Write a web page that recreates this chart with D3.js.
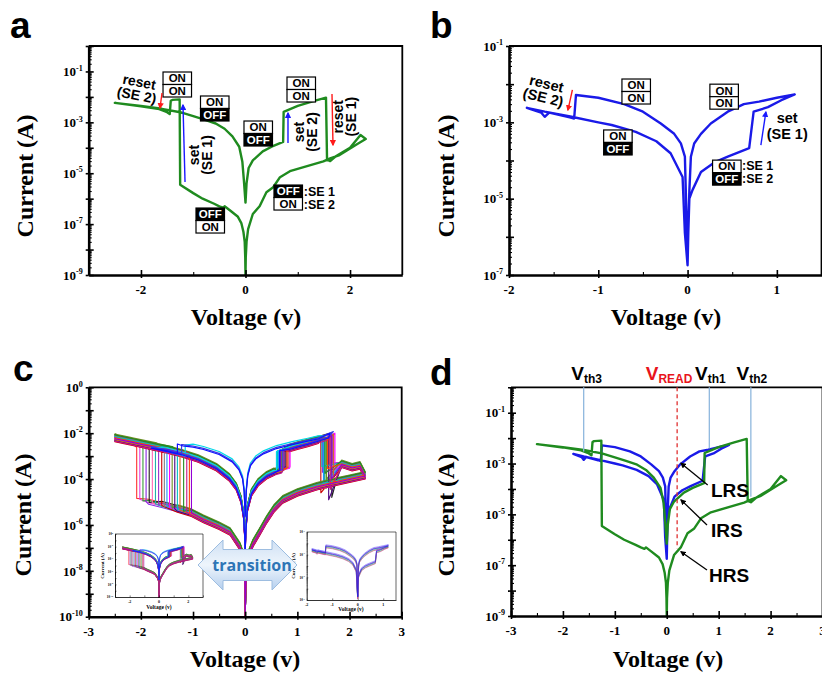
<!DOCTYPE html>
<html><head><meta charset="utf-8">
<script src="https://cdn.jsdelivr.net/npm/d3@7/dist/d3.min.js"></script>
<style>html,body{margin:0;padding:0;background:#fff;}svg{display:block;}</style>
</head><body>
<svg id="fig" width="822" height="673" viewBox="0 0 822 673"></svg>
<script>
// ================= DATA =================
// Panel a / d : green I-V sweep (voltage V, current A)
const greenV = [0,-0.005,-0.015,-0.04,-0.08,-0.15,-0.3,-0.4,-0.43,-0.5,-0.6,-0.82,-1.0,-1.25,-1.26,-1.4,-1.43,-1.45,-1.5,-1.65,-2.0,-2.5,-2.0,-1.6,-1.25,-1.0,-0.8,-0.57,-0.4,-0.25,-0.12,-0.06,-0.03,0,0.02,0.06,0.14,0.33,0.5,0.72,0.73,1.0,1.3,1.54,1.56,1.62,1.72,2.0,2.2,2.3,2.14,1.8,1.62,1.49,0.85,0.66,0.53,0.4,0.27,0.14,0.05,0.02,0.005,0];
const greenI = [1e-9,5e-9,2e-8,5e-8,1.1e-7,2e-7,3.5e-7,5e-7,4.4e-7,5e-7,6.3e-7,1e-6,1.65e-6,3.5e-6,8e-3,7.6e-3,7e-3,2.1e-3,2.5e-3,3.3e-3,4.3e-3,5.8e-3,4.4e-3,3.4e-3,2.5e-3,1.75e-3,1.3e-3,9e-4,5.6e-4,2.8e-4,1.1e-4,2.8e-5,5e-6,7e-7,4e-6,1.6e-5,3.2e-5,7.2e-5,1.1e-4,1.7e-4,2.6e-3,4.4e-3,6.8e-3,9.3e-3,3.4e-5,3e-5,4.5e-5,1e-4,3.2e-4,2.2e-4,1.4e-4,5.2e-5,3.8e-5,2.9e-5,1.2e-5,7e-6,2.8e-6,1.8e-6,5e-7,2.5e-7,6.3e-8,2e-8,5e-9,1e-9];
// Panel b / d : blue I-V sweep
const blueV = [0,0.008,0.02,0.056,0.15,0.3,0.45,0.69,0.74,0.9,1.05,1.2,1.0,0.8,0.63,0.45,0.26,0.15,0.074,0.037,0.02,0.008,0,-0.008,-0.02,-0.03,-0.075,-0.15,-0.3,-0.5,-0.71,-1.0,-1.25,-1.27,-1.32,-1.55,-1.6,-1.64,-1.8,-1.6,-1.3,-1.0,-0.85,-0.58,-0.35,-0.19,-0.056,-0.03,0];
const blueI = [1.8e-7,1.26e-6,1e-5,1.7e-5,5e-5,8.9e-5,1.26e-4,2.1e-4,1.9e-3,2.5e-3,3.8e-3,5.4e-3,4.4e-3,3.5e-3,3e-3,1.9e-3,9.3e-4,5e-4,2.8e-4,1.26e-4,1.6e-5,1.6e-6,1.8e-7,1.6e-6,1.6e-5,1.26e-4,2.8e-4,5e-4,9.3e-4,1.9e-3,3e-3,4.4e-3,5.2e-3,1.26e-3,1.35e-3,1.8e-3,1.4e-3,1.8e-3,2.4e-3,1.9e-3,1.4e-3,1e-3,8.5e-4,5.6e-4,3.2e-4,1.55e-4,3.7e-5,1.26e-6,1.8e-7];

// Panel c : repeated cycles (current given as log10 exponent)
const cColors   = ["#ff3030","#e040e0","#3a9a3a","#8a2be2","#202020","#ff69b4","#20b2aa","#9932cc","#c80000","#808080","#1e90ff","#ff00ff","#6b8e23","#4b0082","#00c0c0","#d2691e","#228b22","#c71585","#ff4500","#9400d3"];
const cNegSetV  = [-2.08,-2.02,-1.96,-1.9,-1.84,-1.78,-1.72,-1.66,-1.6,-1.55,-1.5,-1.45,-1.4,-1.35,-1.3,-1.25,-1.18,-1.12,-1.07,-1.03];
const cNegLowE  = [-4.84,-4.88,-4.95,-4.98,-5.02,-5.05,-5.08,-5.12,-5.15,-5.18,-5.2,-5.24,-5.27,-5.3,-5.33,-5.36,-5.4,-5.43,-5.46,-5.48];
const cNegTopE  = [-2.62,-2.6,-2.68,-2.65,-2.72,-2.7,-2.78,-2.75,-2.82,-2.8,-2.86,-2.84,-2.9,-2.92,-2.95,-2.98,-3.0,-3.03,-3.06,-3.1];
const cPosSetV  = [0.62,0.8,0.7,0.66,0.78,0.6,0.74,0.84,0.68,0.72,0.64,0.86,0.7,0.76,0.62,0.82,0.66,0.74,0.8,0.68];
const cPosLowE  = [-3.62,-3.52,-3.58,-3.62,-3.5,-3.66,-3.55,-3.48,-3.6,-3.56,-3.62,-3.46,-3.58,-3.52,-3.64,-3.5,-3.62,-3.54,-3.52,-3.6];
const cPosTopE  = [-2.78,-2.7,-2.74,-2.76,-2.72,-2.8,-2.73,-2.68,-2.75,-2.74,-2.77,-2.66,-2.74,-2.72,-2.78,-2.69,-2.76,-2.73,-2.7,-2.75];
const cResetV   = [1.62,1.7,1.55,1.48,1.66,1.58,1.52,1.68,1.45,1.64,1.5,1.72,1.56,1.6,1.47,1.69,1.53,1.63,1.58,1.66];
const cResetTopE= [-2.15,-2.02,-2.2,-2.25,-2.1,-2.18,-2.22,-2.05,-2.28,-2.12,-2.24,-2.0,-2.19,-2.16,-2.26,-2.04,-2.21,-2.13,-2.17,-2.1];
const cResetLowE= [-3.4,-3.9,-4.4,-3.7,-4.8,-3.5,-4.1,-3.3,-4.6,-3.8,-4.3,-3.6,-4.0,-4.9,-3.45,-4.2,-3.75,-4.45,-3.55,-4.0];
const cShiftE   = [0.1,-0.05,0.05,-0.12,0.15,0,-0.08,0.08,-0.15,0.12,0.03,-0.03,0.18,-0.1,0.06,-0.06,0.14,-0.13,0.02,-0.02];
// shared branch shapes of panel c
const cLowLeftV = [0,-0.008,-0.03,-0.1,-0.29,-0.5,-0.8,-1.03,-1.3,-1.6,-1.85,-2.08,-2.2];
const cLowLeftE = [-10,-8.2,-7.4,-6.95,-6.3,-6.05,-5.75,-5.48,-5.3,-5.12,-4.98,-4.84,-4.78];
const cOuterV = [-1.1,-1.4,-1.7,-2.0,-2.3,-2.5];
const cOuterE = [-2.85,-2.72,-2.6,-2.46,-2.32,-2.22];
const cRetV = [-2.5,-2.2,-1.9,-1.5,-1.2,-0.9,-0.55,-0.3,-0.17,-0.08,-0.03,-0.01,0];
const cRetE = [-2.22,-2.36,-2.52,-2.72,-2.9,-3.12,-3.5,-3.95,-4.35,-4.9,-5.6,-6.4,-7.2];
const cFwdV = [0,0.01,0.04,0.12,0.25,0.41,0.55,0.7,0.85];
const cFwdE = [-7.2,-6.3,-5.3,-4.6,-4.15,-3.85,-3.7,-3.6,-3.5];
const cTopV = [0.85,1.0,1.2,1.4,1.6,1.75];
const cTopE = [-2.66,-2.56,-2.44,-2.3,-2.16,-2.05];
const cOffV = [1.85,2.05,2.2];
const cOffE = [-3.35,-3.5,-3.42];
const cLowRightV = [2.3,2.0,1.7,1.37,1.0,0.72,0.55,0.41,0.28,0.15,0.06,0.02,0];
const cLowRightE = [-3.85,-4.0,-4.15,-4.33,-4.6,-4.9,-5.3,-5.78,-6.3,-6.8,-7.3,-8.0,-10];
// panel c : cycles that already behave like panel b (blue / cyan)
const cBColors = ["#00d8e8","#3a3ae0","#1010ff"];
const cBSetV = [0.6,0.72,0.66];
const cBSetLowE = [-3.65,-3.58,-3.6];
const cBSetTopE = [-2.8,-2.72,-2.76];
const cBMaxV = [1.55,1.69,1.62];
const cBMaxE = [-2.1,-1.93,-2.0];
const cBDropV = [-1.15,-1.22,-1.3];
const cBDropTopE = [-2.52,-2.5,-2.47];
const cBDropLowE = [-3.0,-2.95,-2.9];
const cBEndE = [-2.62,-2.6,-2.65];
const cBShiftE = [0.08,0,-0.05];
const cUpRV = [1.4,1.2,0.9,0.6,0.35,0.2,0.1,0.05,0.02,0];
const cUpRE = [-2.2,-2.3,-2.45,-2.62,-2.85,-3.08,-3.38,-3.8,-4.5,-5.6];
const cUpLV = [-0.02,-0.05,-0.12,-0.25,-0.5,-0.8,-1.0,-1.2,-1.3];
const cUpLE = [-4.5,-3.95,-3.55,-3.2,-2.88,-2.66,-2.56,-2.5,-2.47];
// right inset of panel c: repeated panel-b type sweeps
const insetRShift = [0,0.08,-0.08,0.15,-0.12,0.04];
const insetRColors = ["#20a0a0","#a020c0","#30a030","#6060ff","#e040a0","#2020e0"];

// tick definitions
const aXMajor=[-2,0,2], aXMinor=[-1,1], aXLabels=[-2,0,2], aYLabels=[-1,-3,-5,-7,-9];
const bXMajor=[-2,-1,0,1], bXMinor=[-1.5,-0.5,0.5], bXLabels=[-2,-1,0,1], bYLabels=[-1,-3,-5,-7];
const cXMajor=[-3,-2,-1,0,1,2,3], cXMinor=[-2.5,-1.5,-0.5,0.5,1.5,2.5], cXLabels=[-3,-2,-1,0,1,2,3], cYLabels=[0,-2,-4,-6,-8,-10];
const dXMajor=[-3,-2,-1,0,1,2,3], dXMinor=[-2.5,-1.5,-0.5,0.5,1.5,2.5], dXLabels=[-3,-2,-1,0,1,2,3], dYLabels=[-1,-3,-5,-7,-9];

// ================= DRAWING =================
const SERIF="'Liberation Serif','Times New Roman',Times,serif";
const SANS="'Liberation Sans',Arial,Helvetica,sans-serif";
const GREEN="#1f8b1f", BLUE="#1a1ae8", RED="#ff1a1a";
const svg=d3.select("#fig");
svg.append("rect").attr("width",822).attr("height",673).attr("fill","#fff");
const defs=svg.append("defs");
function mk(id,c){defs.append("marker").attr("id",id).attr("viewBox","0 0 10 10").attr("refX",8).attr("refY",5)
  .attr("markerWidth",4.5).attr("markerHeight",4.5).attr("orient","auto").append("path").attr("d","M0,0L10,5L0,10Z").attr("fill",c);}
mk("ar",RED); mk("ab","#1a1aff"); mk("ak","#000");
const grad=defs.append("linearGradient").attr("id","tg").attr("x1",0).attr("y1",0).attr("x2",0).attr("y2",1);
grad.append("stop").attr("offset","0%").attr("stop-color","#cfe0f4");
grad.append("stop").attr("offset","50%").attr("stop-color","#eef5fc");
grad.append("stop").attr("offset","100%").attr("stop-color","#b5cfee");

const MAIN={frameW:1.8,axisW:2.6,tMaj:5,tOut:3,tMin:3,tickW:1.6,minorW:1.1,xLabFs:13,xLabDy:19,yLabFs:13,yLabDx:6};
const INSET={frameW:0.6,axisW:0.8,tMaj:1.6,tOut:0,tMin:0.8,tickW:0.5,minorW:0.4,xLabFs:4,xLabDy:5.5,yLabFs:3.4,yLabDx:2};

function makePanel(o){
  const g=svg.append("g");
  const x=d3.scaleLinear().domain(o.xDom).range([o.L,o.R]);
  const y=d3.scaleLog().domain(o.yDom).range([o.B,o.T]);
  if(o.bg) g.append("rect").attr("x",o.L).attr("y",o.T).attr("width",o.R-o.L).attr("height",o.B-o.T).attr("fill","#fff");
  const curves=g.append("g");
  g.append("path").attr("d",`M${o.L},${o.T}H${o.R}V${o.B}`).attr("fill","none").attr("stroke","#000").attr("stroke-width",o.frameW);
  const xa=g.append("g").attr("transform",`translate(0,${o.B})`)
    .call(d3.axisBottom(x).tickValues(o.xMajor).tickSize(-o.tMaj).tickSizeOuter(0).tickFormat(""));
  xa.select(".domain").attr("stroke-width",o.axisW);
  xa.selectAll(".tick line").attr("stroke-width",o.tickW);
  if(o.tOut){const xo=g.append("g").attr("transform",`translate(0,${o.B})`)
    .call(d3.axisBottom(x).tickValues(o.xMajor).tickSize(o.tOut).tickSizeOuter(0).tickFormat(""));
    xo.select(".domain").remove(); xo.selectAll(".tick line").attr("stroke-width",o.tickW);}
  if(o.xMinor){const xm=g.append("g").attr("transform",`translate(0,${o.B})`)
    .call(d3.axisBottom(x).tickValues(o.xMinor).tickSize(-o.tMin).tickSizeOuter(0).tickFormat(""));
    xm.select(".domain").remove(); xm.selectAll(".tick line").attr("stroke-width",o.minorW);}
  const e0=Math.round(Math.log10(o.yDom[0])), e1=Math.round(Math.log10(o.yDom[1]));
  const dec=[], minor=[];
  for(let e=e0;e<=e1;e++){dec.push(Math.pow(10,e)); if(e<e1) for(let k=2;k<10;k++) minor.push(k*Math.pow(10,e));}
  const ya=g.append("g").attr("transform",`translate(${o.L},0)`)
    .call(d3.axisLeft(y).tickValues(dec).tickSize(-o.tMaj).tickSizeOuter(0).tickFormat(""));
  ya.select(".domain").attr("stroke-width",o.axisW);
  ya.selectAll(".tick line").attr("stroke-width",o.tickW);
  if(o.tOut){const yo=g.append("g").attr("transform",`translate(${o.L},0)`)
    .call(d3.axisLeft(y).tickValues(dec).tickSize(o.tOut).tickSizeOuter(0).tickFormat(""));
    yo.select(".domain").remove(); yo.selectAll(".tick line").attr("stroke-width",o.tickW);}
  const ym=g.append("g").attr("transform",`translate(${o.L},0)`)
    .call(d3.axisLeft(y).tickValues(minor).tickSize(-o.tMin).tickSizeOuter(0).tickFormat(""));
  ym.select(".domain").remove(); ym.selectAll(".tick line").attr("stroke-width",o.minorW);
  o.xLabels.forEach(v=>g.append("text").attr("x",x(v)).attr("y",o.B+o.xLabDy).attr("text-anchor","middle")
    .attr("font-family",SERIF).attr("font-weight","bold").attr("font-size",o.xLabFs).text(v));
  o.yLabels.forEach(ex=>{const t=g.append("text").attr("x",o.L-o.yLabDx).attr("y",y(Math.pow(10,ex))+o.yLabFs*0.36)
    .attr("text-anchor","end").attr("font-family",SERIF).attr("font-weight","bold").attr("font-size",o.yLabFs);
    t.append("tspan").text("10");
    t.append("tspan").attr("font-size",o.yLabFs*0.62).attr("dy",-o.yLabFs*0.42).text(ex);});
  return {g,curves,x,y};
}
function drawLine(p,pts,color,w){
  p.curves.append("path").attr("d",d3.line().x(d=>p.x(d[0])).y(d=>p.y(d[1]))(pts))
    .attr("fill","none").attr("stroke",color).attr("stroke-width",w).attr("stroke-linejoin","round").attr("stroke-linecap","round");
}
const E=e=>Math.pow(10,e);
function title(xc,yc,str,rot){
  svg.append("text").attr("transform",`translate(${xc},${yc})${rot?" rotate(-90)":""}`).attr("text-anchor","middle")
    .attr("font-family",SERIF).attr("font-weight","bold").attr("font-size",24).text(str);
}
function letter(x,y,s){svg.append("text").attr("x",x).attr("y",y).attr("font-family",SANS).attr("font-weight","bold").attr("font-size",37).text(s);}
function stateBox(p,v,e,top,bot){
  const x0=p.x(v), y0=p.y(E(e)), w=28.5, h=12.5;
  [[top,0],[bot,1]].forEach(([s,k])=>{
    const blk=s==="OFF";
    p.g.append("rect").attr("x",x0).attr("y",y0+k*h).attr("width",w).attr("height",h).attr("fill",blk?"#000":"#fff").attr("stroke","#000").attr("stroke-width",1.2);
    p.g.append("text").attr("x",x0+w/2).attr("y",y0+k*h+h/2+4.1).attr("text-anchor","middle").attr("font-family",SANS)
      .attr("font-weight","bold").attr("font-size",11.5).attr("fill",blk?"#fff":"#000").text(s);
  });
}
function multiText(p,v,e,lines,angle,fs,lh){
  const g=p.g.append("g").attr("transform",`translate(${p.x(v)},${p.y(E(e))}) rotate(${angle})`);
  lines.forEach((s,k)=>g.append("text").attr("x",0).attr("y",(k-(lines.length-1)/2)*lh+fs*0.36).attr("text-anchor","middle")
    .attr("font-family",SANS).attr("font-weight","bold").attr("font-size",fs).text(s));
}
function plainText(p,v,e,s,fs){
  p.g.append("text").attr("x",p.x(v)).attr("y",p.y(E(e))).attr("font-family",SANS).attr("font-weight","bold").attr("font-size",fs).text(s);
}
function arrow(p,v1,e1,v2,e2,color,mid,w){
  p.g.append("line").attr("x1",p.x(v1)).attr("y1",p.y(E(e1))).attr("x2",p.x(v2)).attr("y2",p.y(E(e2)))
    .attr("stroke",color).attr("stroke-width",w||1.4).attr("marker-end",`url(#${mid})`);
}

// ---------- panel a ----------
const pa=makePanel(Object.assign({L:88.7,R:402.3,T:46,B:275,xDom:[-3,3],yDom:[1e-9,1],xMajor:aXMajor,xMinor:aXMinor,xLabels:aXLabels,yLabels:aYLabels},MAIN));
drawLine(pa,d3.zip(greenV,greenI),GREEN,2.4);
stateBox(pa,-1.578,-1.022,"ON","ON");
stateBox(pa,-0.861,-1.965,"ON","OFF");
stateBox(pa,-0.029,-2.948,"ON","OFF");
stateBox(pa,0.794,-1.219,"ON","ON");
stateBox(pa,0.545,-5.464,"OFF","ON");
stateBox(pa,-0.947,-6.368,"OFF","ON");
plainText(pa,1.115,-5.88,":SE 1",12.5);
plainText(pa,1.115,-6.40,":SE 2",12.5);
multiText(pa,-2.057,-1.665,["reset","(SE 2)"],11,14,13.5);
arrow(pa,-1.597,-1.847,-1.636,-2.437,RED,"ar");
arrow(pa,-1.157,-5.346,-1.196,-2.319,"#1a1aff","ab");
multiText(pa,-0.87,-4.285,["set","(SE 1)"],-90,14,13);
arrow(pa,0.813,-3.813,0.813,-2.634,"#1a1aff","ab");
multiText(pa,1.138,-3.381,["set","(SE 2)"],-90,14,13);
arrow(pa,1.655,-1.887,1.674,-3.892,RED,"ar");
multiText(pa,1.894,-2.779,["reset","(SE 1)"],-90,14,13);

// ---------- panel b ----------
const pb=makePanel(Object.assign({L:509,R:821.5,T:46,B:275,xDom:[-2,1.5],yDom:[1e-7,1e-1],xMajor:bXMajor,xMinor:bXMinor,xLabels:bXLabels,yLabels:bYLabels},MAIN));
drawLine(pb,d3.zip(blueV,blueI),BLUE,2.4);
stateBox(pb,-0.735,-1.865,"ON","ON");
stateBox(pb,0.25,-2.0,"ON","ON");
stateBox(pb,-0.94,-3.2,"ON","OFF");
stateBox(pb,0.28,-3.99,"ON","OFF");
plainText(pb,0.61,-4.24,":SE 1",12.5);
plainText(pb,0.61,-4.6,":SE 2",12.5);
multiText(pb,-1.598,-2.161,["reset","(SE 2)"],13.5,14.5,14);
arrow(pb,-1.29,-2.15,-1.34,-2.68,RED,"ar");
arrow(pb,0.821,-3.595,0.877,-2.73,"#1a1aff","ab");
multiText(pb,1.116,-3.09,["set","(SE 1)"],0,14.5,15.5);

// ---------- panel c ----------
const pc=makePanel(Object.assign({L:88.7,R:401.7,T:387.3,B:616.7,xDom:[-3,3],yDom:[1e-10,1],xMajor:cXMajor,xMinor:cXMinor,xLabels:cXLabels,yLabels:cYLabels},MAIN));
function cycleA(i){
  const s=cShiftE[i], sh=e=>e<=-8?e:e+s, pts=[];
  cLowLeftV.forEach((v,k)=>{if(v>cNegSetV[i]) pts.push([v,sh(cLowLeftE[k])]);});
  pts.push([cNegSetV[i],cNegLowE[i]],[cNegSetV[i],cNegTopE[i]]);
  cOuterV.forEach((v,k)=>{if(v<cNegSetV[i]) pts.push([v,sh(cOuterE[k])]);});
  cRetV.forEach((v,k)=>pts.push([v,sh(cRetE[k])]));
  cFwdV.forEach((v,k)=>{if(v<cPosSetV[i]) pts.push([v,sh(cFwdE[k])]);});
  pts.push([cPosSetV[i],cPosLowE[i]],[cPosSetV[i],cPosTopE[i]]);
  cTopV.forEach((v,k)=>{if(v>cPosSetV[i]&&v<cResetV[i]) pts.push([v,sh(cTopE[k])]);});
  pts.push([cResetV[i],cResetTopE[i]],[cResetV[i],cResetLowE[i]]);
  cOffV.forEach((v,k)=>{if(v>cResetV[i]) pts.push([v,sh(cOffE[k])]);});
  cLowRightV.forEach((v,k)=>pts.push([v,sh(cLowRightE[k])]));
  return pts.map(d=>[d[0],E(d[1])]);
}
function cycleB(j){
  const s=cBShiftE[j], sh=e=>e<=-8?e:e+s, pts=[];
  cFwdV.forEach((v,k)=>{if(v<cBSetV[j]) pts.push([v,sh(cFwdE[k])]);});
  pts.push([cBSetV[j],cBSetLowE[j]],[cBSetV[j],cBSetTopE[j]]);
  cTopV.forEach((v,k)=>{if(v>cBSetV[j]&&v<cBMaxV[j]) pts.push([v,sh(cTopE[k])]);});
  pts.push([cBMaxV[j],cBMaxE[j]]);
  cUpRV.forEach((v,k)=>{if(v<cBMaxV[j]) pts.push([v,sh(cUpRE[k])]);});
  cUpLV.forEach((v,k)=>{if(v>cBDropV[j]) pts.push([v,sh(cUpLE[k])]);});
  pts.push([cBDropV[j],cBDropTopE[j]],[cBDropV[j],cBDropLowE[j]],[-1.8,cBEndE[j]]);
  cRetV.forEach((v,k)=>{if(v>-1.8) pts.push([v,sh(cRetE[k])]);});
  return pts.map(d=>[d[0],E(d[1])]);
}
cNegSetV.forEach((_,i)=>drawLine(pc,cycleA(i),cColors[i],1.1));
cBColors.forEach((c,j)=>drawLine(pc,cycleB(j),c,1.2));

// insets
const li=makePanel(Object.assign({L:115,R:203,T:534,B:597,xDom:[-3,3],yDom:[1e-10,1],xMajor:[-3,-2,-1,0,1,2,3],xMinor:null,xLabels:[-2,0,2],yLabels:[0,-2,-4,-6,-8,-10],bg:true},INSET));
cNegSetV.forEach((_,i)=>drawLine(li,cycleA(i),cColors[i],0.5));
cBColors.forEach((c,j)=>drawLine(li,cycleB(j),c,0.55));
svg.append("text").attr("x",159).attr("y",609).attr("text-anchor","middle").attr("font-family",SERIF).attr("font-weight","bold").attr("font-size",5.5).text("Voltage (v)");
svg.append("text").attr("transform","translate(104,566) rotate(-90)").attr("text-anchor","middle").attr("font-family",SERIF).attr("font-weight","bold").attr("font-size",5).text("Current (A)");

const ri=makePanel(Object.assign({L:306.7,R:396,T:532,B:600,xDom:[-2,1.5],yDom:[1e-7,1e-1],xMajor:[-2,-1,0,1],xMinor:null,xLabels:[-2,-1,0,1],yLabels:[-1,-3,-5,-7],bg:true},INSET));
insetRShift.forEach((s,k)=>drawLine(ri,d3.zip(blueV,blueI.map(v=>v*E(s))),insetRColors[k],0.55));
svg.append("text").attr("x",351).attr("y",611).attr("text-anchor","middle").attr("font-family",SERIF).attr("font-weight","bold").attr("font-size",5.5).text("Voltage (v)");
svg.append("text").attr("transform","translate(295,566) rotate(-90)").attr("text-anchor","middle").attr("font-family",SERIF).attr("font-weight","bold").attr("font-size",5).text("Current (A)");

// transition arrow
svg.append("path").attr("d","M198,565L223,540L223,549.5L272,549.5L272,540L297,565L272,590L272,580.5L223,580.5L223,590Z")
  .attr("fill","url(#tg)").attr("stroke","#9dbde0").attr("stroke-width",1);
svg.append("text").attr("x",252).attr("y",571).attr("text-anchor","middle").attr("font-family","'Open Sans',"+SANS)
  .attr("font-weight","bold").attr("font-size",16).attr("fill","#2e75b6").text("transition");

// ---------- panel d ----------
const pd=makePanel(Object.assign({L:511,R:822.5,T:387.3,B:616,xDom:[-3,3],yDom:[1e-9,1],xMajor:dXMajor,xMinor:dXMinor,xLabels:dXLabels,yLabels:dYLabels},MAIN));
drawLine(pd,d3.zip(blueV,blueI),BLUE,2.4);
drawLine(pd,d3.zip(greenV,greenI),GREEN,2.4);
function vline(v,e,color,dash){pd.g.append("line").attr("x1",pd.x(v)).attr("x2",pd.x(v)).attr("y1",pd.y(1)).attr("y2",pd.y(E(e)))
  .attr("stroke",color).attr("stroke-width",1.3).attr("stroke-dasharray",dash||null);}
vline(-1.6,-2.53,"#8fb8de"); vline(0.82,-2.40,"#8fb8de"); vline(1.62,-4.31,"#8fb8de"); vline(0.2,-6.34,"#e03030","4,3");
function vlabel(v,sub,color){const t=pd.g.append("text").attr("x",pd.x(v)).attr("y",pd.y(E(0.29))).attr("font-family",SANS)
  .attr("font-weight","bold").attr("fill",color).attr("font-size",19);
  t.append("tspan").text("V"); t.append("tspan").attr("font-size",12).attr("dy",3).text(sub);}
vlabel(-1.84,"th3","#000"); vlabel(-0.405,"READ","#e8141c"); vlabel(0.545,"th1","#000"); vlabel(1.345,"th2","#000");
function stLabel(v,e,s){pd.g.append("text").attr("x",pd.x(v)).attr("y",pd.y(E(e))).attr("font-family",SANS).attr("font-weight","bold").attr("font-size",19).text(s);}
stLabel(0.852,-4.32,"LRS"); stLabel(0.852,-5.88,"IRS"); stLabel(0.813,-7.65,"HRS");
arrow(pd,0.789,-3.845,0.274,-2.99,"#000","ak",1.3);
arrow(pd,0.775,-5.42,0.274,-4.43,"#000","ak",1.3);
arrow(pd,0.775,-7.19,0.274,-6.47,"#000","ak",1.3);

// titles and letters
title(33,176,"Current (A)",true); title(454,176,"Current (A)",true);
title(31,515,"Current (A)",true); title(454,515,"Current (A)",true);
title(246,325,"Voltage (v)"); title(666,325,"Voltage (v)");
title(245,667,"Voltage (v)"); title(668,667,"Voltage (v)");
letter(10,38,"a"); letter(430,38,"b"); letter(13,381,"c"); letter(430,385,"d");
</script></body></html>
